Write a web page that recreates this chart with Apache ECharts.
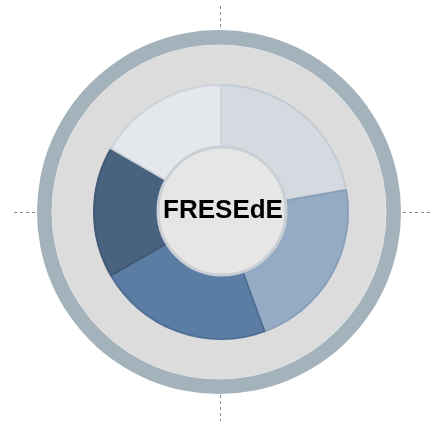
<!DOCTYPE html>
<html>
<head>
<meta charset="utf-8">
<script src="https://cdn.jsdelivr.net/npm/echarts@6/dist/echarts.min.js"></script>
<style>
html,body{margin:0;padding:0;background:#ffffff;}
#chart{width:436px;height:421px;}
</style>
</head>
<body>
<div id="chart"></div>
<script>
// Data
const segmentNames = ['Segment 1', 'Segment 2', 'Segment 3', 'Segment 4', 'Segment 5'];
const segmentValues = [80, 80, 80, 60, 60];
const segmentColors = ['#D4DAE0', '#95ABC3', '#5B7DA3', '#49637F', '#E4E8EC'];
const segmentBorders = ['#C4CBD2', '#8A9FB8', '#4F7096', '#405874', '#CDD3D9'];
const centerLabel = 'FRESEdE';

const chart = echarts.init(document.getElementById('chart'), null, {renderer: 'canvas'});

const donutData = segmentNames.map((n, i) => ({
  name: n,
  value: segmentValues[i],
  itemStyle: {color: segmentColors[i], borderColor: segmentBorders[i], borderWidth: 2}
}));

const dash = (x1, y1, x2, y2) => ({
  type: 'line',
  shape: {x1, y1, x2, y2},
  style: {stroke: '#8a8a8a', lineWidth: 1, lineDash: [3, 3]},
  silent: true
});

chart.setOption({
  animation: false,
  backgroundColor: '#ffffff',
  graphic: [
    dash(14, 212.5, 37, 212.5),
    dash(403, 212.5, 432, 212.5),
    dash(220.5, 6, 220.5, 30),
    dash(220.5, 395, 220.5, 421)
  ],
  series: [
    {
      type: 'pie', silent: true, center: [219, 212], radius: [0, 182],
      label: {show: false}, labelLine: {show: false},
      data: [{value: 1, name: 'ring', itemStyle: {color: '#A4B2BB'}}]
    },
    {
      type: 'pie', silent: true, center: [219, 212], radius: [0, 167],
      label: {show: false}, labelLine: {show: false},
      data: [{value: 1, name: 'field', itemStyle: {color: '#DCDCDC', borderColor: '#E4E6E8', borderWidth: 1}}]
    },
    {
      type: 'pie', silent: true, center: [221, 212], radius: [62, 127],
      startAngle: 90, clockwise: true,
      label: {show: false}, labelLine: {show: false},
      data: donutData
    },
    {
      type: 'pie', silent: true, center: [222, 211], radius: [0, 64],
      label: {
        show: true, position: 'center', formatter: centerLabel,
        fontFamily: 'Liberation Sans, Arial, sans-serif', fontWeight: 'bold',
        fontSize: 26, color: '#000000', padding: [5, 0, 0, 2]
      },
      labelLine: {show: false},
      data: [{value: 1, name: 'center', itemStyle: {color: '#E6E6E6', borderColor: '#C9CFD5', borderWidth: 3}}]
    }
  ]
});
</script>
</body>
</html>
